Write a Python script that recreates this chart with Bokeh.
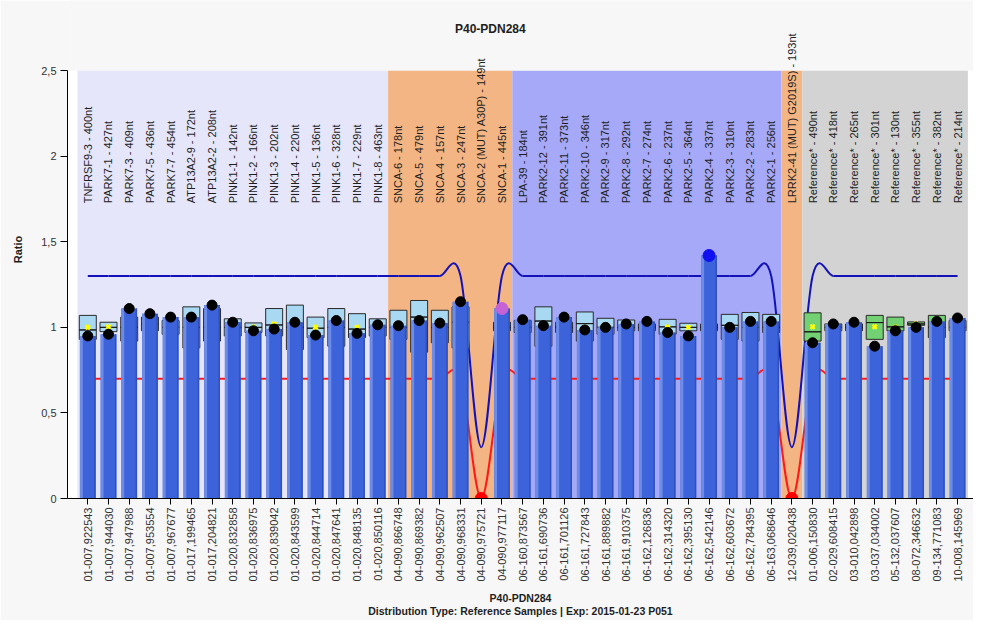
import numpy as np
from bokeh.plotting import figure
from bokeh.models import (ColumnDataSource, LabelSet, Label, FixedTicker,
                          CustomJSTickFormatter, Range1d)
from bokeh.core.properties import value
from bokeh.embed import file_html
from bokeh.resources import INLINE

# ---------------- data ----------------
samples = ["01-007,922543", "01-007,944030", "01-007,947988", "01-007,953554", "01-007,967677",
           "01-017,199465", "01-017,204821", "01-020,832858", "01-020,836975", "01-020,839042",
           "01-020,843599", "01-020,844714", "01-020,847641", "01-020,848135", "01-020,850116",
           "04-090,866748", "04-090,869382", "04-090,962507", "04-090,968331", "04-090,975721",
           "04-090,977117", "06-160,873567", "06-161,690736", "06-161,701126", "06-161,727843",
           "06-161,889882", "06-161,910375", "06-162,126836", "06-162,314320", "06-162,395130",
           "06-162,542146", "06-162,603672", "06-162,784395", "06-163,068646", "12-039,020438",
           "01-006,150830", "02-029,608415", "03-010,042898", "03-037,034002", "05-132,037607",
           "08-072,346632", "09-134,771083", "10-008,145969"]

probes = ["TNFRSF9-3 - 400nt", "PARK7-1 - 427nt", "PARK7-3 - 409nt", "PARK7-5 - 436nt",
          "PARK7-7 - 454nt", "ATP13A2-9 - 172nt", "ATP13A2-2 - 208nt", "PINK1-1 - 142nt",
          "PINK1-2 - 166nt", "PINK1-3 - 202nt", "PINK1-4 - 220nt", "PINK1-5 - 136nt",
          "PINK1-6 - 328nt", "PINK1-7 - 229nt", "PINK1-8 - 463nt", "SNCA-6 - 178nt",
          "SNCA-5 - 479nt", "SNCA-4 - 157nt", "SNCA-3 - 247nt", "SNCA-2 (MUT) A30P) - 149nt",
          "SNCA-1 - 445nt", "LPA-39 - 184nt", "PARK2-12 - 391nt", "PARK2-11 - 373nt",
          "PARK2-10 - 346nt", "PARK2-9 - 317nt", "PARK2-8 - 292nt", "PARK2-7 - 274nt",
          "PARK2-6 - 237nt", "PARK2-5 - 364nt", "PARK2-4 - 337nt", "PARK2-3 - 310nt",
          "PARK2-2 - 283nt", "PARK2-1 - 256nt", "LRRK2-41 (MUT) G2019S) - 193nt",
          "Reference* - 490nt", "Reference* - 418nt", "Reference* - 265nt", "Reference* - 301nt",
          "Reference* - 130nt", "Reference* - 355nt", "Reference* - 382nt", "Reference* - 214nt"]

ratio = [0.95, 0.96, 1.11, 1.08, 1.06, 1.06, 1.13, 1.03, 0.98, 0.99,
         1.03, 0.955, 1.04, 0.965, 1.015, 1.01, 1.04, 1.025, 1.15, 0.0,
         1.11, 1.045, 1.01, 1.06, 0.985, 1.0, 1.02, 1.035, 0.97, 0.95,
         1.42, 1.0, 1.035, 1.035, 0.0, 0.91, 1.02, 1.03, 0.89, 0.98,
         1.0, 1.035, 1.055]

nan = float("nan")
box_low = [0.93, 0.975, 0.92, 0.98, 0.96, 0.88, 0.92, 0.95, 0.97, 0.95,
           0.87, 0.94, 0.89, 0.94, 0.95, 0.93, 0.855, 0.91, 0.88, nan,
           0.98, 0.97, 0.89, 0.97, 0.92, 0.96, 0.98, 0.98, 0.96, 0.98,
           0.98, 0.93, 0.92, 0.97, nan, 0.92, 0.98, 0.98, 0.93, 0.98,
           1.012, 0.94, 0.98]
box_high = [1.07, 1.03, 1.06, 1.06, 1.04, 1.12, 1.11, 1.05, 1.026, 1.11,
            1.13, 1.06, 1.11, 1.08, 1.05, 1.10, 1.157, 1.10, 1.12, nan,
            1.03, 1.04, 1.12, 1.03, 1.09, 1.053, 1.043, 1.02, 1.047, 1.024,
            1.02, 1.076, 1.087, 1.076, nan, 1.085, 1.02, 1.02, 1.07, 1.06,
            1.032, 1.07, 1.04]
box_median = [0.985, 1.0, 1.0, 1.02, 1.0, 1.0, 1.0, 1.0, 1.0, 1.014,
              1.0, 0.995, 1.0, 0.99, 1.0, 1.0, 1.06, 1.0, 1.03, nan,
              1.0, 1.0, 1.037, 1.0, 1.022, 1.0, 1.0, 1.0, 1.003, 1.0,
              1.0, 1.012, 1.0, 1.0, nan, 0.974, 1.0, 1.0, 1.028, 1.003,
              1.02, 1.0, 1.0]
box_mean = [1.0, 1.003, 1.0, 1.02, 1.0, 1.0, 1.0, 1.0, 1.0, 1.02,
            1.0, 1.0, 1.0, 1.0, 1.0, 1.0, 1.0, 1.0, 1.03, nan,
            1.0, 1.0, 1.0, 1.0, 1.0, 1.0, 1.0, 1.0, 1.0, 1.0,
            1.0, 1.0, 1.0, 1.0, nan, 1.003, 1.0, 1.0, 1.003, 1.0,
            1.02, 1.0, 1.0]

upper_limit = [1.3, 1.3, 1.3, 1.3, 1.3, 1.3, 1.3, 1.3, 1.3, 1.3,
               1.3, 1.3, 1.3, 1.3, 1.3, 1.3, 1.3, 1.3, 1.3, 0.3,
               1.3, 1.3, 1.3, 1.3, 1.3, 1.3, 1.3, 1.3, 1.3, 1.3,
               1.3, 1.3, 1.3, 1.3, 0.3, 1.3, 1.3, 1.3, 1.3, 1.3,
               1.3, 1.3, 1.3]
lower_limit = [0.7, 0.7, 0.7, 0.7, 0.7, 0.7, 0.7, 0.7, 0.7, 0.7,
               0.7, 0.7, 0.7, 0.7, 0.7, 0.7, 0.7, 0.7, 0.7, 0.0,
               0.7, 0.7, 0.7, 0.7, 0.7, 0.7, 0.7, 0.7, 0.7, 0.7,
               0.7, 0.7, 0.7, 0.7, 0.0, 0.7, 0.7, 0.7, 0.7, 0.7,
               0.7, 0.7, 0.7]

group_first = [0, 15, 21, 34, 35]
group_last = [14, 20, 33, 34, 42]

y_ticks = [0, 0.5, 1, 1.5, 2, 2.5]
y_max = 2.5

chart_title = "P40-PDN284"
x_title = "P40-PDN284\nDistribution Type: Reference Samples | Exp: 2015-01-23 P051"
y_title = "Ratio"

# ---------------- styles / layout ----------------
group_colors = ["#E6E6FA", "#F4B584", "#A6A9F7", "#F4B584", "#D3D3D3"]
group_box_colors = ["#A9D8F3", "#A9D8F3", "#A9D8F3", "#A9D8F3", "#72D172"]
flag_colors = {19: "#FF0000", 20: "#C462D6", 30: "#1010F0", 34: "#FF0000"}
FONT = "Liberation Sans"
X_LO, X_HI = -0.98, 42.77
Y_TOP = 2.91           # frame reaches up to the top of the canvas; axis stops at 2.5

n = len(samples)
xs = list(range(n))
box_fill = []
for gi, (a, b) in enumerate(zip(group_first, group_last)):
    box_fill += [group_box_colors[gi]] * (b - a + 1)
dot_color = [flag_colors.get(i, "#000000") for i in xs]
dot_size = [12 if i in flag_colors else 10 for i in xs]

src = ColumnDataSource(dict(x=xs, ratio=ratio, lo=box_low, hi=box_high, med=box_median,
                            mean=box_mean, box_fill=box_fill, dot_color=dot_color,
                            dot_size=dot_size, probe=probes))

p = figure(width=973, height=620, output_backend="svg", toolbar_location=None,
           x_range=Range1d(X_LO, X_HI), y_range=Range1d(0, Y_TOP),
           min_border_left=67, min_border_right=0, min_border_top=0, min_border_bottom=117)
p.border_fill_color = "#F7F7F7"
p.background_fill_color = "#F7F7F7"
p.outline_line_color = None
p.xgrid.visible = False
p.ygrid.visible = False

# white plot area
p.quad(left=[X_LO], right=[X_HI], bottom=[0], top=[y_max], fill_color="#FFFFFF", line_color=None)

# group backgrounds
p.quad(left=[a - 0.5 for a in group_first], right=[b + 0.5 for b in group_last],
       bottom=0, top=y_max, fill_color=group_colors, line_color=None)


def catmull_rom_bezier(xv, yv):
    px = np.asarray(xv, float)
    py = np.asarray(yv, float)
    x0, y0, x1, y1 = px[:-1], py[:-1], px[1:], py[1:]
    prx = np.concatenate([[px[0]], px[:-2]])
    pry = np.concatenate([[py[0]], py[:-2]])
    nxx = np.concatenate([px[2:], [px[-1]]])
    nxy = np.concatenate([py[2:], [py[-1]]])
    return dict(x0=x0, y0=y0, x1=x1, y1=y1,
                cx0=x0 + (x1 - prx) / 6, cy0=y0 + (y1 - pry) / 6,
                cx1=x1 - (nxx - x0) / 6, cy1=y1 - (nxy - y0) / 6)


p.bezier(source=ColumnDataSource(catmull_rom_bezier(xs, lower_limit)),
         x0="x0", y0="y0", x1="x1", y1="y1", cx0="cx0", cy0="cy0", cx1="cx1", cy1="cy1",
         line_color="#FF1A1A", line_width=2)
p.bezier(source=ColumnDataSource(catmull_rom_bezier(xs, upper_limit)),
         x0="x0", y0="y0", x1="x1", y1="y1", cx0="cx0", cy0="cy0", cx1="cx1", cy1="cy1",
         line_color="#1212B8", line_width=2)

# reference distribution boxes
p.vbar(x="x", width=0.82, bottom="lo", top="hi", source=src, fill_color="box_fill",
       line_color="#2A2A2A", line_width=1)
p.rect(x="x", y="med", width=0.82, height=0.0001, source=src, fill_color=None,
       line_color="#1A1A1A", line_width=1)
p.scatter(x="x", y="mean", source=src, marker="x", size=6, line_color="#FFFF00", line_width=2.5)

# bars (with a highlight on the left and shade on the right)
p.vbar(x="x", width=0.76, bottom=0, top="ratio", source=src, fill_color="#3C63D9", line_color=None)
p.vbar(x=[i - 0.31 for i in xs], width=0.14, bottom=0, top=ratio, fill_color="#6C8CE8",
       line_color=None)
p.vbar(x=[i + 0.345 for i in xs], width=0.07, bottom=0, top=ratio, fill_color="#2F50BE",
       line_color=None)

# sample points
p.scatter(x="x", y="ratio", source=src, size="dot_size", fill_color="dot_color",
          line_color="dot_color")

# probe labels
p.add_layout(LabelSet(x="x", y=1.725, text="probe", source=src, angle=np.pi / 2,
                      text_align="left", text_baseline="middle", text_font=value(FONT),
                      text_font_size=value("11px"), text_color="#1E1E1E"))

# chart title (centred on the canvas)
p.add_layout(Label(x=19.44, y=2.743, text=chart_title, text_align="center",
                   text_baseline="middle", text_font=FONT, text_font_style="bold",
                   text_font_size="12px", text_color="#1E1E1E"))

# axes
p.yaxis.bounds = (0, y_max)
p.yaxis.ticker = FixedTicker(ticks=y_ticks)
p.yaxis.formatter = CustomJSTickFormatter(code="return tick.toString().replace('.', ',');")
p.yaxis.axis_label = y_title
p.yaxis.axis_label_text_font = FONT
p.yaxis.axis_label_text_font_style = "bold"
p.yaxis.axis_label_text_font_size = "11px"
p.yaxis.axis_label_text_color = "#1E1E1E"
p.yaxis.axis_label_standoff = 14
p.yaxis.major_label_text_font = FONT
p.yaxis.major_label_text_font_size = "11px"
p.yaxis.major_label_text_color = "#333333"
p.yaxis.major_tick_in = 0
p.yaxis.major_tick_out = 7
p.yaxis.minor_tick_line_color = None
p.yaxis.major_label_standoff = 4

p.xaxis.ticker = FixedTicker(ticks=xs)
p.xaxis.major_label_overrides = {i: s for i, s in zip(xs, samples)}
p.xaxis.major_label_orientation = np.pi / 2
p.xaxis.major_label_text_font = FONT
p.xaxis.major_label_text_font_size = "11px"
p.xaxis.major_label_text_color = "#333333"
p.xaxis.major_tick_in = 0
p.xaxis.major_tick_out = 6
p.xaxis.minor_tick_line_color = None
p.xaxis.major_label_standoff = 3
p.xaxis.axis_label = x_title
p.xaxis.axis_label_text_font = FONT
p.xaxis.axis_label_text_font_style = "bold"
p.xaxis.axis_label_text_font_size = "10.5px"
p.xaxis.axis_label_text_color = "#1E1E1E"
p.xaxis.axis_label_standoff = 7
p.xaxis.axis_label_text_line_height = 1.15

for ax in (p.xaxis, p.yaxis):
    ax.axis_line_color = "#000000"
    ax.major_tick_line_color = "#000000"

open("out.html", "w").write(file_html(p, INLINE))
